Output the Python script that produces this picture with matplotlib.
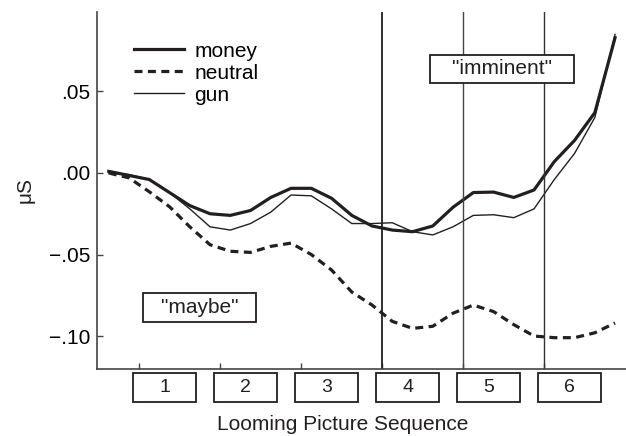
import numpy as np
import matplotlib
matplotlib.use("Agg")
import matplotlib.pyplot as plt
from matplotlib.patches import Rectangle

plt.rcParams['font.family'] = ['Liberation Sans', 'DejaVu Sans']

# time axis: one sample every quarter picture, picture onsets at 1..6
t = np.arange(26) * 0.25 + 0.625

money = [0.001, -0.0015, -0.004, -0.012, -0.020, -0.025, -0.026, -0.023,
         -0.015, -0.0094, -0.0094, -0.0155, -0.026, -0.0325, -0.035, -0.036,
         -0.0325, -0.021, -0.012, -0.0117, -0.015, -0.0104, 0.007, 0.020,
         0.037, 0.083]
neutral = [0.000, -0.003, -0.0115, -0.0207, -0.033, -0.044, -0.048, -0.0487,
           -0.045, -0.043, -0.050, -0.0595, -0.073, -0.081, -0.091, -0.0953,
           -0.094, -0.086, -0.081, -0.085, -0.093, -0.100, -0.101, -0.101,
           -0.098, -0.092]
gun = [0.000, -0.001, -0.004, -0.012, -0.022, -0.033, -0.035, -0.031,
       -0.024, -0.0135, -0.014, -0.022, -0.031, -0.031, -0.0305, -0.036,
       -0.038, -0.033, -0.026, -0.0256, -0.0274, -0.022, -0.004, 0.012,
       0.034, 0.085]

pictures = [1, 2, 3, 4, 5, 6]
picture_labels = ['1', '2', '3', '4', '5', '6']
yticks = [-0.10, -0.05, 0.00, 0.05]
ytick_labels = ['\u2212.10', '\u2212.05', '.00', '.05']

ink = '#231f20'

fig = plt.figure(figsize=(6.26, 4.36), dpi=100)
ax = fig.add_axes([0.155, 0.1537, 0.845, 0.819])

ax.plot(t, money, color=ink, lw=2.3, label='money')
ax.plot(t, neutral, color=ink, lw=2.3, dashes=(2.5, 1.7), label='neutral')
ax.plot(t, gun, color=ink, lw=1.0, label='gun')

# picture onsets 4-6
ax.axvline(4, color=ink, lw=1.3)
ax.axvline(5, color='#444444', lw=1.0)
ax.axvline(6, color='#333333', lw=1.0)

ax.set_xlim(0.48, 7.01)
ax.set_ylim(-0.1202, 0.0988)

for s in ['top', 'right']:
    ax.spines[s].set_visible(False)
for s in ['left', 'bottom']:
    ax.spines[s].set_color('#444444')
    ax.spines[s].set_linewidth(1.2)

ax.set_xticks(pictures)
ax.set_xticklabels([''] * len(pictures))
ax.set_yticks(yticks)
ax.set_yticklabels(ytick_labels)
ax.tick_params(direction='in', length=4, width=1.0, color='#444444',
               labelsize=15, pad=5)

# boxed picture numbers under the axis
trans = ax.get_xaxis_transform()
for p, lab in zip(pictures, picture_labels):
    ax.add_patch(Rectangle((p - 0.075, -0.0924), 0.78, 0.0812, transform=trans,
                           fill=False, edgecolor=ink, lw=1.3, clip_on=False))
    ax.text(p + 0.315, -0.0518, lab, transform=trans, ha='center', va='center',
            fontsize=14, color=ink)

# "imminent" / "maybe" labels with their frames
ax.add_patch(Rectangle((4.593, 0.0552), 1.777, 0.0172, facecolor='white',
                       edgecolor=ink, lw=1.3, zorder=3))
ax.text(5.48, 0.0638, '"imminent"', ha='center', va='center', fontsize=15,
        color=ink, zorder=4)
ax.add_patch(Rectangle((1.049, -0.0914), 1.395, 0.0178, facecolor='white',
                       edgecolor=ink, lw=1.3, zorder=3))
ax.text(1.747, -0.0825, '"maybe"', ha='center', va='center', fontsize=15,
        color=ink, zorder=4)

ax.set_xlabel('Looming Picture Sequence', fontsize=15, color=ink)
ax.xaxis.set_label_coords(0.465, -0.13)
ax.set_ylabel('\u03bcS', fontsize=15, color=ink, labelpad=10)

ax.legend(loc='upper left', bbox_to_anchor=(0.07, 0.917), frameon=False,
          fontsize=15, handlelength=2.4, labelspacing=0.15, handletextpad=0.5,
          borderpad=0, borderaxespad=0)

fig.savefig('out.png', dpi=100)
